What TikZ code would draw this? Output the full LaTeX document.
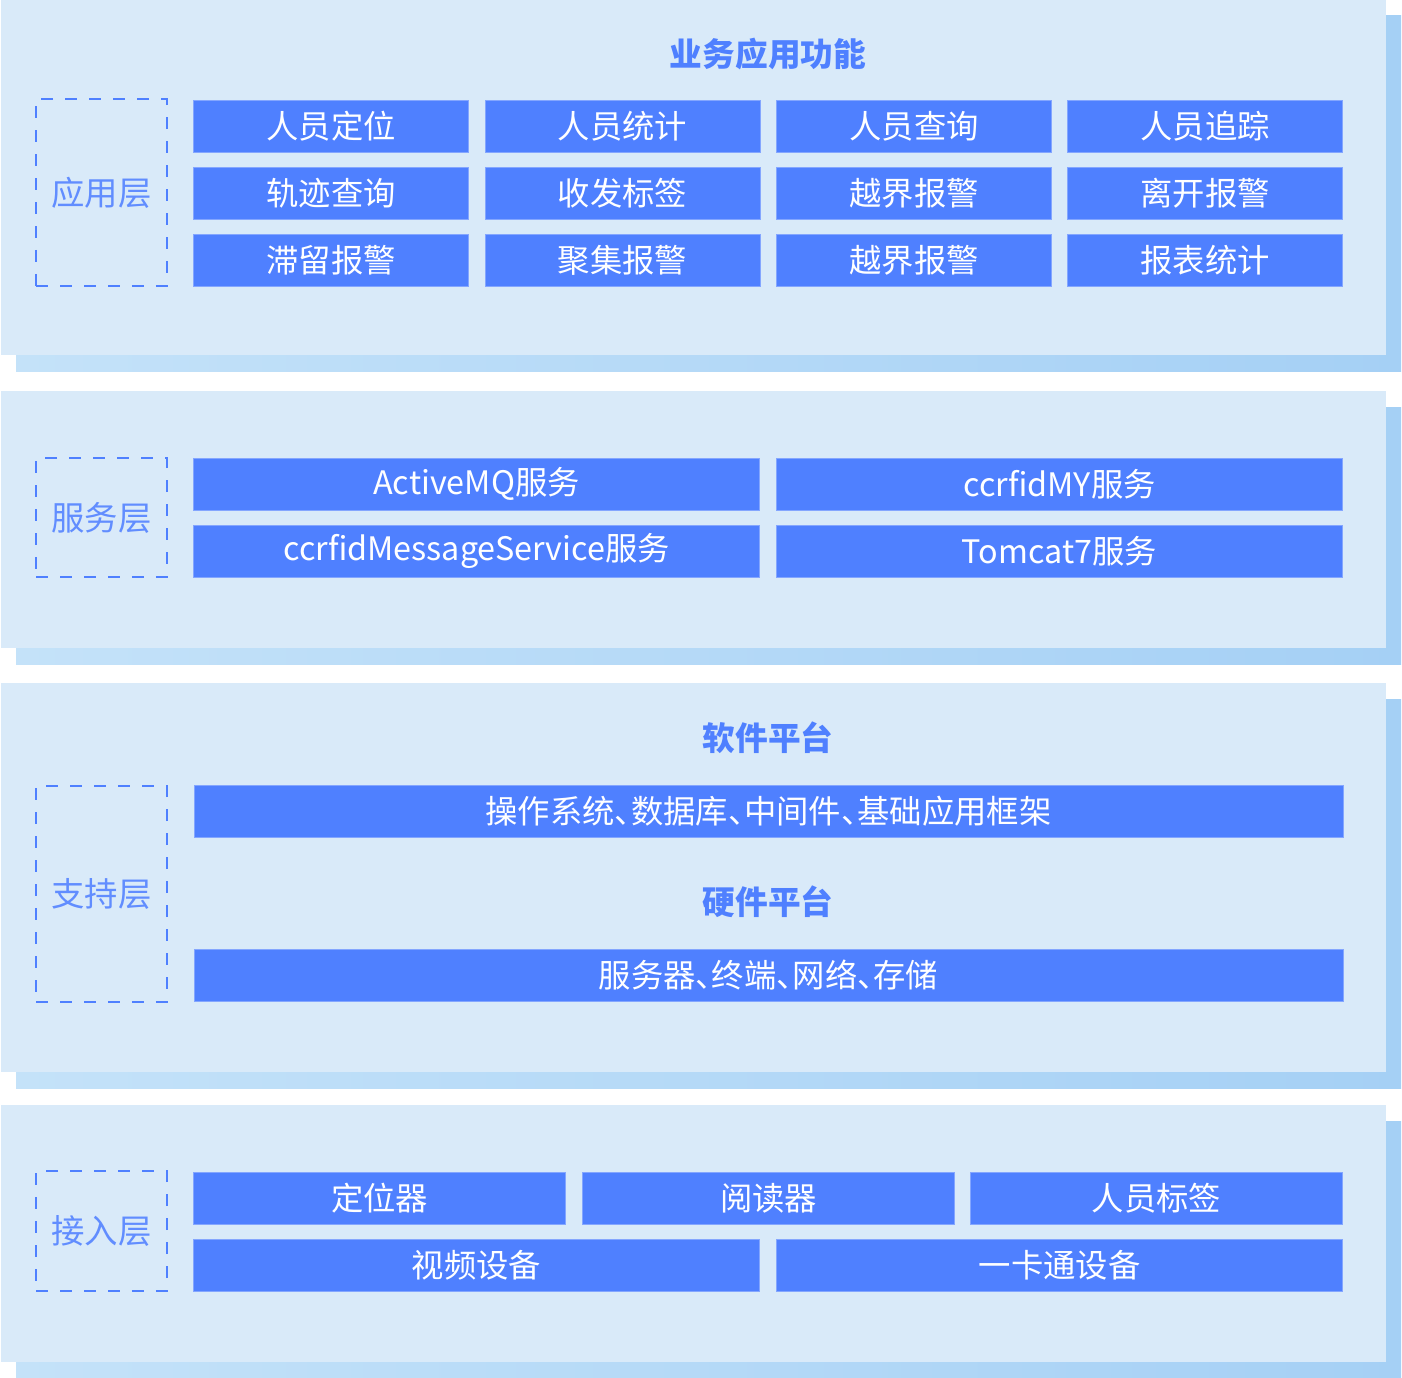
\documentclass[tikz,border=0pt]{standalone}
\usepackage{fontspec}
\newfontfamily\cjk{Noto Sans CJK SC}
\newcommand\dun{、\kern-0.5em}
\definecolor{panelbg}{HTML}{D9EAF9}
\definecolor{shadeL}{HTML}{C4E2F9}
\definecolor{shadeR}{HTML}{A5D0F5}
\definecolor{boxblue}{HTML}{4F80FF}
\begin{document}
\begin{tikzpicture}[x=0.02cm, y=-0.02cm, font=\cjk\fontsize{18.4}{20}\selectfont,
  funcbox/.style={fill=boxblue, draw=boxblue!70!white, line width=0.4pt, text=white, inner sep=0pt, minimum height=1.04cm},
  layerbox/.style={draw=boxblue, line width=0.05cm, dash pattern=on 0.24cm off 0.24cm, text=boxblue!90!white, font=\cjk\fontsize{19}{20}\selectfont, minimum width=2.62cm, inner sep=0pt},
  heading/.style={text=boxblue, font=\cjk\bfseries\fontsize{18.6}{20}\selectfont}]
  \useasboundingbox (0,0) rectangle (1402,1378);
  % panels with offset shadow
  \foreach \t/\b in {0/355, 391/648, 683/1072, 1105/1362} {
    \shade[left color=shadeL, right color=shadeR] (16,{\t+16}) rectangle (1401,{\b+16});
    \fill[panelbg] (1,\t) rectangle (1386,\b);
  }
  % application layer
  \node[heading] (apptitle) at (768,54) {业务应用功能};
  \node[layerbox, minimum height=3.74cm] (app) at (101.5,192.5) {应用层};
  \foreach \r/\y/\la/\lb/\lc/\ld in {1/126/人员定位/人员统计/人员查询/人员追踪, 2/193/轨迹查询/收发标签/越界报警/离开报警, 3/260/滞留报警/聚集报警/越界报警/报表统计} {
    \node[funcbox, minimum width=5.5cm] (a\r1) at (331,\y) {\la};
    \node[funcbox, minimum width=5.5cm] (a\r2) at (622.5,\y) {\lb};
    \node[funcbox, minimum width=5.5cm] (a\r3) at (914,\y) {\lc};
    \node[funcbox, minimum width=5.5cm] (a\r4) at (1205,\y) {\ld};
  }
  % service layer
  \node[layerbox, minimum height=2.38cm] (srv) at (101.5,517.5) {服务层};
  \node[funcbox, minimum width=11.32cm] (s1) at (476.5,484) {ActiveMQ服务};
  \node[funcbox, minimum width=11.32cm] (s2) at (1059.5,484) {ccrfidMY服务};
  \node[funcbox, minimum width=11.32cm] (s3) at (476.5,551) {ccrfidMessageService服务};
  \node[funcbox, minimum width=11.32cm] (s4) at (1059.5,551) {Tomcat7服务};
  % support layer
  \node[layerbox, minimum height=4.32cm] (sup) at (101.5,894) {支持层};
  \node[heading] (softtitle) at (768,738) {软件平台};
  \node[funcbox, minimum width=22.98cm] (soft) at (768.5,811) {操作系统\dun 数据库\dun 中间件\dun 基础应用框架};
  \node[heading] (hardtitle) at (768,902) {硬件平台};
  \node[funcbox, minimum width=22.98cm] (hard) at (768.5,975) {服务器\dun 终端\dun 网络\dun 存储};
  % access layer
  \node[layerbox, minimum height=2.4cm] (acc) at (101.5,1231) {接入层};
  \node[funcbox, minimum width=7.44cm] (c1) at (379.5,1198) {定位器};
  \node[funcbox, minimum width=7.44cm] (c2) at (768.5,1198) {阅读器};
  \node[funcbox, minimum width=7.44cm] (c3) at (1156.5,1198) {人员标签};
  \node[funcbox, minimum width=11.32cm] (c4) at (476.5,1265) {视频设备};
  \node[funcbox, minimum width=11.32cm] (c5) at (1059.5,1265) {一卡通设备};
\end{tikzpicture}
\end{document}
